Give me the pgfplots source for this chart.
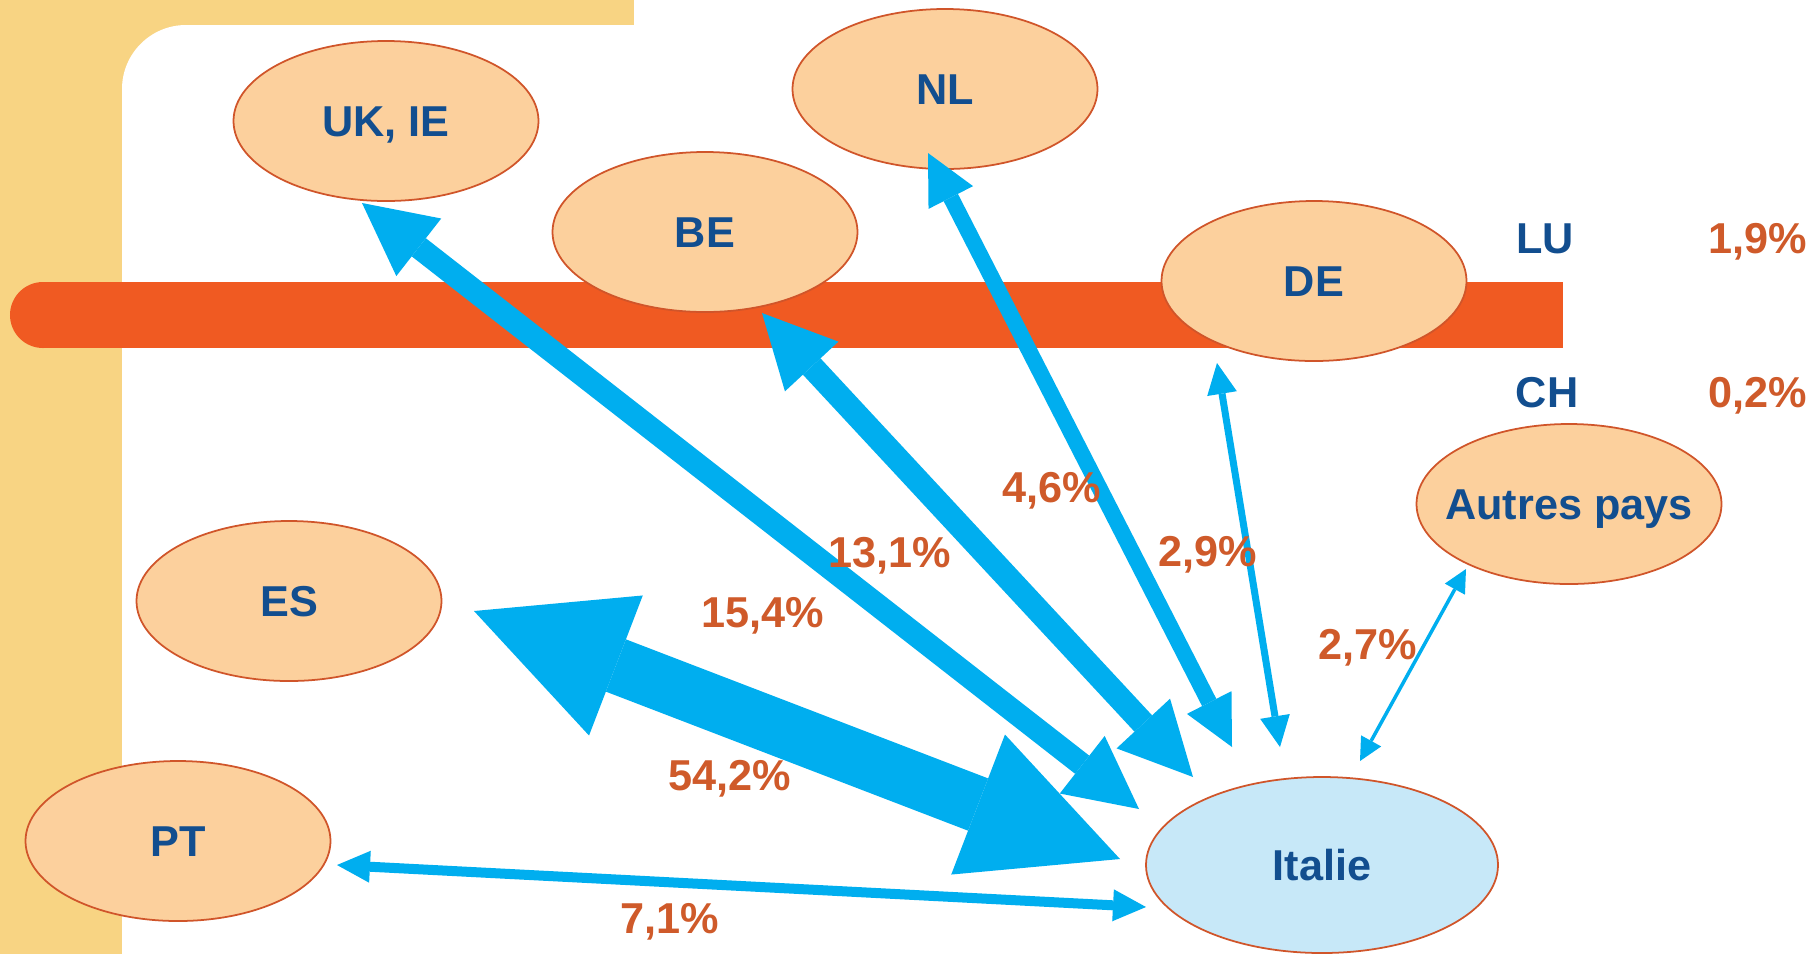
\documentclass[border=0pt]{standalone}
\usepackage{pgfplots}
\pgfplotsset{compat=1.18}
\usepackage{fontspec}
\setmainfont{Liberation Sans}
\usetikzlibrary{arrows.meta,shapes.geometric}
\definecolor{bgyellow}{HTML}{F8D483}
\definecolor{bandorange}{HTML}{F05A22}
\definecolor{ellfill}{HTML}{FCD09D}
\definecolor{ellstroke}{HTML}{D0552A}
\definecolor{itfill}{HTML}{C7E8F8}
\definecolor{arrowblue}{HTML}{00AEEF}
\definecolor{txtblue}{HTML}{124E8F}
\definecolor{pctorange}{HTML}{CF5A2A}
\tikzset{
  lbl/.style={text=txtblue, font=\fontsize{12.3}{14}\bfseries\selectfont, text height=8.8pt, text depth=0pt, inner sep=0pt},
  pct/.style={text=pctorange, font=\fontsize{12.3}{14}\bfseries\selectfont, text height=8.8pt, text depth=0pt, inner sep=0pt},
  ell/.style={ellipse, draw=ellstroke, fill=ellfill, line width=0.5pt, minimum width=3.05cm, minimum height=1.60cm, inner sep=0pt}
}
\begin{document}
\begin{tikzpicture}
\begin{axis}[
  width=18.18cm, height=9.54cm, scale only axis,
  xmin=0, xmax=1818, ymin=0, ymax=954, y dir=reverse,
  hide axis, clip=true
]
% background frame
\addplot[fill=white, draw=none] coordinates {(0,0) (1818,0) (1818,954) (0,954)} -- cycle;
\addplot[fill=bgyellow, draw=none] coordinates {(0,0) (634,0) (634,25) (0,25)} -- cycle;
\addplot[fill=bgyellow, draw=none] coordinates {(0,0) (122,0) (122,954) (0,954)} -- cycle;
\addplot[fill=bgyellow, draw=none] coordinates {(122,25) (186,25) (186,89) (122,89)} -- cycle;
\fill[white] (axis cs:186,89) circle[radius=0.64cm];
% orange band
\addplot[fill=bandorange, draw=none] coordinates {(43,282) (1563,282) (1563,348) (43,348)} -- cycle;
\fill[bandorange] (axis cs:43,315) circle[radius=0.33cm];
% ellipses
\node[ell] at (axis cs:386,121) {};
\node[ell] at (axis cs:945,89) {};
\node[ell] at (axis cs:705,232) {};
\node[ell] at (axis cs:1314,281) {};
\node[ell] at (axis cs:1569,504) {};
\node[ell] at (axis cs:289,601) {};
\node[ell] at (axis cs:178,841) {};
\node[ell, fill=itfill, minimum width=3.52cm, minimum height=1.76cm] at (axis cs:1322,865) {};
% flows (double-headed arrows)
\addplot[draw=arrowblue, line width=0.56cm, arrows={Triangle[length=1.52cm,width=1.50cm,line width=0pt]-Triangle[length=1.52cm,width=1.50cm,line width=0pt]}] coordinates {(474,611) (1120,859)};
\addplot[draw=arrowblue, line width=0.23cm, arrows={Triangle[length=0.72cm,width=0.73cm,line width=0pt]-Triangle[length=0.72cm,width=0.73cm,line width=0pt]}] coordinates {(362,203) (1139,809)};
\addplot[draw=arrowblue, line width=0.24cm, arrows={Triangle[length=0.73cm,width=0.73cm,line width=0pt]-Triangle[length=0.73cm,width=0.73cm,line width=0pt]}] coordinates {(762,313) (1193,777)};
\addplot[draw=arrowblue, line width=0.16cm, arrows={Triangle[length=0.50cm,width=0.50cm,line width=0pt]-Triangle[length=0.50cm,width=0.50cm,line width=0pt]}] coordinates {(928,153) (1232,747)};
\addplot[draw=arrowblue, line width=0.07cm, arrows={Triangle[length=0.31cm,width=0.30cm,line width=0pt]-Triangle[length=0.31cm,width=0.30cm,line width=0pt]}] coordinates {(1217,363) (1280,747)};
\addplot[draw=arrowblue, line width=0.035cm, arrows={Triangle[length=0.23cm,width=0.23cm,line width=0pt]-Triangle[length=0.23cm,width=0.23cm,line width=0pt]}] coordinates {(1466,569) (1360,761)};
\addplot[draw=arrowblue, line width=0.10cm, arrows={Triangle[length=0.33cm,width=0.32cm,line width=0pt]-Triangle[length=0.33cm,width=0.32cm,line width=0pt]}] coordinates {(337,865) (1146,907)};
% country labels
\node[lbl] at (axis cs:386,121) {UK, IE};
\node[lbl] at (axis cs:945,89) {NL};
\node[lbl] at (axis cs:705,232) {BE};
\node[lbl] at (axis cs:1314,281) {DE};
\node[lbl] at (axis cs:1569,504) {Autres pays};
\node[lbl] at (axis cs:289,601) {ES};
\node[lbl] at (axis cs:178,841) {PT};
\node[lbl] at (axis cs:1322,865) {Italie};
\node[lbl] at (axis cs:1545,238) {LU};
\node[lbl] at (axis cs:1547,392) {CH};
% percentages
\node[pct] at (axis cs:1758,238) {1,9\%};
\node[pct] at (axis cs:1758,392) {0,2\%};
\node[pct] at (axis cs:890,552) {13,1\%};
\node[pct] at (axis cs:763,612) {15,4\%};
\node[pct] at (axis cs:1052,487) {4,6\%};
\node[pct] at (axis cs:1208,551) {2,9\%};
\node[pct] at (axis cs:1368,644) {2,7\%};
\node[pct] at (axis cs:730,775) {54,2\%};
\node[pct] at (axis cs:670,918) {7,1\%};
\end{axis}
\end{tikzpicture}
\end{document}
